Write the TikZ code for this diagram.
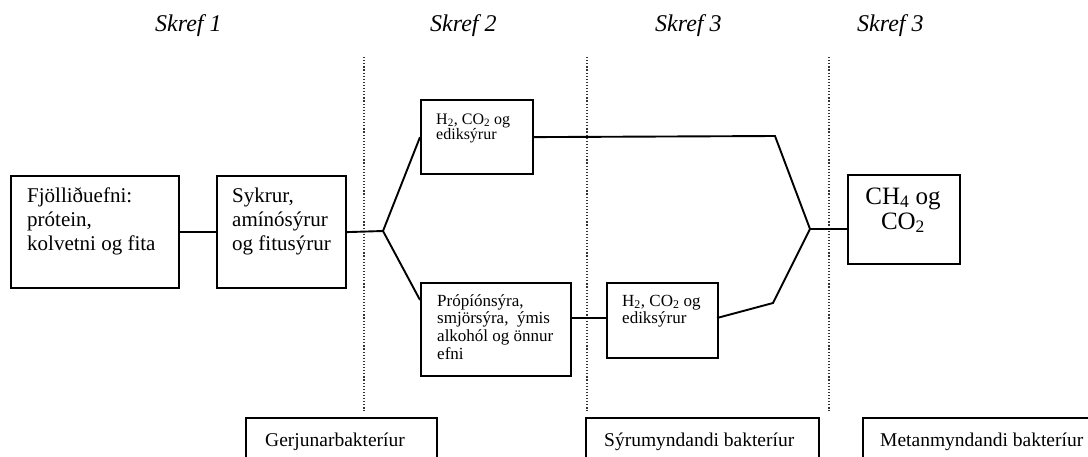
\documentclass[tikz,border=0pt]{standalone}
\usepackage{fontspec}
\setmainfont{Liberation Serif}
\newcommand\mylines[2][l]{\begin{tabular}[t]{@{}#1@{}}#2\end{tabular}}
\newcommand\fs[2]{\fontsize{#1}{#2}\selectfont}
\begin{document}
\begin{tikzpicture}[x=1pt,y=-1pt,
  box/.style={draw=black, line width=2.2pt, inner sep=0pt, anchor=north west},
  conn/.style={draw=black, line width=1.9pt},
  sep/.style={draw=black!80, line width=1.2pt, dash pattern=on 1.2pt off 1.9pt},
  txt/.style={inner sep=0pt, anchor=base west},
  head/.style={inner sep=0pt, anchor=base west, font=\fs{24}{26}\itshape},
  foot/.style={inner sep=0pt, anchor=base west, font=\fs{19.5}{20}}]
\useasboundingbox (0,0) rectangle (1088,456);
% separators
\coordinate (s1t) at (364,57); \coordinate (s1b) at (364,411);
\coordinate (s2t) at (587,57); \coordinate (s2b) at (587,411);
\coordinate (s3t) at (829,57); \coordinate (s3b) at (829,411);
\draw[sep] (s1t) -- (s1b);
\draw[sep] (s2t) -- (s2b);
\draw[sep] (s3t) -- (s3b);
% headings
\node[head] (h1) at (155,31) {Skref 1};
\node[head] (h2) at (430,31) {Skref 2};
\node[head] (h3) at (655,31) {Skref 3};
\node[head] (h4) at (857,31) {Skref 3};
% boxes
\node[box, minimum width=168, minimum height=112] (A) at (10,175) {};
\node[txt, font=\fs{21}{24}] (At) at (27,202) {\mylines{Fjölliðuefni:\\prótein,\\kolvetni og fita}};
\node[box, minimum width=129, minimum height=112] (B) at (216,175) {};
\node[txt, font=\fs{21}{24}] (Bt) at (232,202) {\mylines{Sykrur,\\amínósýrur\\og fitusýrur}};
\node[box, minimum width=112, minimum height=74] (C) at (420,99) {};
\node[txt, font=\fs{16}{15.5}] (Ct) at (436,124) {\mylines{H\textsubscript{2}, CO\textsubscript{2} og\\ediksýrur}};
\node[box, minimum width=150, minimum height=93] (D) at (420,282) {};
\node[txt, font=\fs{17}{17.7}] (Dt) at (437,306) {\mylines{Própíónsýra,\\smjörsýra,~ ýmis\\alkohól og önnur\\efni}};
\node[box, minimum width=111, minimum height=75] (E) at (606,282) {};
\node[txt, font=\fs{17}{17.7}] (Et) at (622,306) {\mylines{H\textsubscript{2}, CO\textsubscript{2} og\\ediksýrur}};
\node[box, minimum width=112, minimum height=89] (F) at (847,174) {};
\node[inner sep=0pt, anchor=base, font=\fs{25}{25}] (Ft) at (903,204) {\mylines[c]{CH\textsubscript{4} og\\CO\textsubscript{2}}};
% bottom boxes
\node[box, minimum width=191, minimum height=60] (G1) at (245,417) {};
\node[foot] (G1t) at (265,446) {Gerjunarbakteríur};
\node[box, minimum width=233, minimum height=60] (G2) at (585,417) {};
\node[foot] (G2t) at (604,446) {Sýrumyndandi bakteríur};
\node[box, minimum width=240, minimum height=60] (G3) at (862,417) {};
\node[foot] (G3t) at (880,446) {Metanmyndandi bakteríur};
% connectors
\coordinate (J1) at (383,231);
\coordinate (Dl) at (420,300);
\coordinate (Dr) at (570,318);
\coordinate (El) at (606,318);
\coordinate (Er) at (717,318);
\coordinate (Cb) at (775,136);
\coordinate (Eb) at (773,303);
\coordinate (J2) at (810,229);
\coordinate (Fl) at (847,229);
\draw[conn] (A.east) -- (B.west);
\draw[conn] (B.east) -- (J1);
\draw[conn] (J1) -- (C.west);
\draw[conn] (J1) -- (Dl);
\draw[conn] (Dr) -- (El);
\draw[conn, line join=miter] (C.east) -- (Cb) -- (J2);
\draw[conn, line join=miter] (Er) -- (Eb) -- (J2);
\draw[conn] (J2) -- (Fl);
\end{tikzpicture}
\end{document}
